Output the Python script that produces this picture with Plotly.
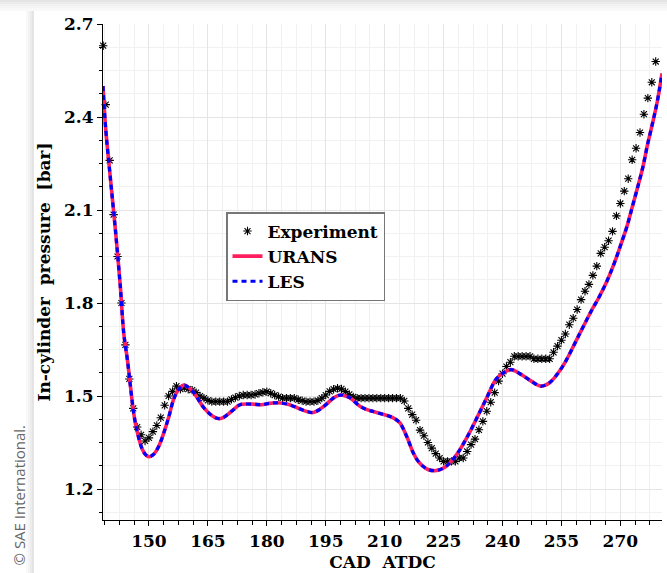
import plotly.graph_objects as go

# ---------------- data ----------------
exp_cad = [138.35, 139, 140, 141, 142, 143, 144, 145, 146, 147, 148, 149, 150, 151, 152, 153, 154, 155,
           156, 157, 158, 159, 160, 161, 162, 163, 164, 165, 166, 167, 168, 169, 170, 171, 172, 173,
           174, 175, 176, 177, 178, 179, 180, 181, 182, 183, 184, 185, 186, 187, 188, 189, 190, 191,
           192, 193, 194, 195, 196, 197, 198, 199, 200, 201, 202, 203, 204, 205, 206, 207, 208, 209,
           210, 211, 212, 213, 214, 215, 216, 217, 218, 219, 220, 221, 222, 223, 224, 225, 226, 227,
           228, 229, 230, 231, 232, 233, 234, 235, 236, 237, 238, 239, 240, 241, 242, 243, 244, 245,
           246, 247, 248, 249, 250, 251, 252, 253, 254, 255, 256, 257, 258, 259, 260, 261, 262, 263,
           264, 265, 266, 267, 268, 269, 270, 271, 272, 273, 274, 275, 276, 277, 278, 279]
exp_p = [2.63, 2.44, 2.26, 2.085, 1.95, 1.80, 1.665, 1.555, 1.46, 1.40, 1.375, 1.355, 1.365, 1.385,
         1.405, 1.43, 1.47, 1.50, 1.515, 1.532, 1.522, 1.527, 1.522, 1.519, 1.511, 1.50, 1.493, 1.486,
         1.482, 1.482, 1.482, 1.482, 1.482, 1.489, 1.495, 1.50, 1.503, 1.503, 1.503, 1.505, 1.509,
         1.512, 1.514, 1.509, 1.503, 1.498, 1.493, 1.493, 1.493, 1.493, 1.488, 1.485, 1.482, 1.482,
         1.482, 1.485, 1.493, 1.503, 1.515, 1.522, 1.525, 1.523, 1.514, 1.505, 1.497, 1.493, 1.493,
         1.493, 1.493, 1.493, 1.493, 1.493, 1.493, 1.493, 1.493, 1.493, 1.493, 1.484, 1.46, 1.44,
         1.422, 1.39, 1.372, 1.35, 1.332, 1.314, 1.30, 1.289, 1.289, 1.289, 1.289, 1.30, 1.30, 1.321,
         1.343, 1.361, 1.391, 1.418, 1.451, 1.48, 1.511, 1.548, 1.572, 1.595, 1.609, 1.628, 1.628,
         1.628, 1.628, 1.628, 1.620, 1.620, 1.620, 1.620, 1.620, 1.641, 1.661, 1.68, 1.70, 1.73,
         1.751, 1.779, 1.811, 1.838, 1.860, 1.889, 1.919, 1.96, 1.98, 2.001, 2.031, 2.081, 2.121,
         2.161, 2.201, 2.262, 2.299, 2.35, 2.409, 2.461, 2.512, 2.579]

cfd_cad = [138.3, 139.0, 140.2, 141.5, 142.7, 143.6, 144.5, 145.3, 146.1, 147.0, 148.3, 149.2, 150.0,
           151.2, 152.5, 153.8, 155.1, 156.3, 157.6, 158.9, 160.1, 161.4, 162.7, 163.9, 165.6, 167.3,
           168.5, 170.0, 171.5, 173.2, 175.8, 178.7, 180.5, 182.5, 185.1, 187.0, 188.5, 190.5, 191.9,
           193.5, 195.3, 197.0, 198.7, 200.0, 201.2, 203.7, 205.5, 207.1, 209.5, 211.4, 212.8, 213.9,
           215.6, 217.3, 218.5, 219.8, 221.0, 222.7, 224.0, 225.5, 226.6, 228.6, 231.1, 233.7, 236.2,
           238.3, 240.5, 242.2, 244.8, 247.3, 249.7, 252.0, 254.2, 256.0, 258.5, 260.6, 262.8, 264.5,
           266.6, 268.5, 270.0, 271.7, 273.1, 274.5, 275.8, 276.9, 278.2, 279.4, 280.6]
urans_p = [2.50, 2.36, 2.20, 2.03, 1.855, 1.70, 1.618, 1.53, 1.446, 1.385, 1.328, 1.31, 1.304,
           1.312, 1.338, 1.382, 1.435, 1.490, 1.522, 1.535, 1.527, 1.511, 1.486, 1.463, 1.441, 1.428,
           1.428, 1.44, 1.456, 1.472, 1.474, 1.472, 1.476, 1.478, 1.474, 1.466, 1.458, 1.449, 1.447,
           1.457, 1.475, 1.494, 1.503, 1.50, 1.494, 1.467, 1.456, 1.45, 1.441, 1.434, 1.425, 1.413,
           1.37, 1.316, 1.29, 1.273, 1.263, 1.259, 1.262, 1.272, 1.284, 1.316, 1.37, 1.435, 1.50,
           1.553, 1.577, 1.585, 1.569, 1.548, 1.532, 1.543, 1.575, 1.61, 1.672, 1.725, 1.779, 1.817,
           1.871, 1.93, 1.984, 2.048, 2.113, 2.178, 2.242, 2.31, 2.38, 2.45, 2.54]
les_p = list(urans_p)

x_ticks = [150, 165, 180, 195, 210, 225, 240, 255, 270]
y_ticks = [1.2, 1.5, 1.8, 2.1, 2.4, 2.7]

# ---------------- figure ----------------
W, H = 667, 573
ML, MR, MT, MB = 103, 5, 24, 53
PW, PH = W - ML - MR, H - MT - MB


def px(xp):
    return (xp - ML) / PW


def py(yp):
    return (H - MB - yp) / PH


SERIF = "DejaVu Serif"
bold = dict(family=SERIF, size=17, color="black", weight="bold")

fig = go.Figure()
fig.add_trace(go.Scatter(
    x=exp_cad, y=exp_p, mode="markers", name="Experiment",
    marker=dict(symbol="asterisk", size=7, color="black",
                line=dict(color="black", width=1.1)),
    cliponaxis=False))
fig.add_trace(go.Scatter(
    x=cfd_cad, y=urans_p, mode="lines", name="URANS", line_shape="spline",
    line=dict(color="#FF1F5E", width=3.6)))
fig.add_trace(go.Scatter(
    x=cfd_cad, y=les_p, mode="lines", name="LES", line_shape="spline",
    line=dict(color="#0000FF", width=3.2, dash="5px,4px")))

axis_common = dict(
    showline=True, linecolor="black", linewidth=1.2, mirror=False,
    ticks="outside", ticklen=5, tickwidth=1, tickcolor="black",
    showgrid=True, gridcolor="#e4e4e4", gridwidth=1, zeroline=False,
    tickfont=bold,
)

fig.update_xaxes(
    range=[138.3, 280.6], tickmode="array", tickvals=x_ticks,
    ticktext=[str(v) for v in x_ticks],
    minor=dict(dtick=3.75, tick0=150, ticks="outside", ticklen=4, tickcolor="black",
               showgrid=True, gridcolor="#f1f1f1", gridwidth=1),
    title=dict(text="CAD\u00a0\u00a0ATDC", font=dict(family=SERIF, size=17, color="black", weight="bold"),
               standoff=6),
    **axis_common)
fig.update_yaxes(
    range=[1.1, 2.7], tickmode="array", tickvals=y_ticks,
    ticktext=["%.1f" % v for v in y_ticks],
    minor=dict(dtick=0.075, tick0=1.2, ticks="outside", ticklen=3, tickcolor="black",
               showgrid=True, gridcolor="#f1f1f1", gridwidth=1),
    title=dict(text="In-cylinder\u00a0\u00a0pressure\u00a0\u00a0[bar]",
               font=dict(family=SERIF, size=17, color="black", weight="bold"), standoff=8),
    **axis_common)

# card shadow (top strip and left edge)
shapes = []
for i, c in enumerate(["#e4e4e4", "#eaeaea", "#efefef", "#f4f4f4", "#f9f9f9"]):
    shapes.append(dict(type="rect", xref="paper", yref="paper", layer="below",
                       x0=px(0), x1=px(W), y0=py(i * 2.2), y1=py((i + 1) * 2.2),
                       line=dict(width=0), fillcolor=c))
for i, c in enumerate(["#f9f9f9", "#f3f3f3", "#ececec", "#e4e4e4"]):
    shapes.append(dict(type="rect", xref="paper", yref="paper", layer="below",
                       x0=px(26 + i * 2), x1=px(28 + i * 2), y0=py(11), y1=py(H),
                       line=dict(width=0), fillcolor=c))
fig.update_layout(shapes=shapes)

fig.add_annotation(
    text="© SAE International.", textangle=-90, showarrow=False,
    xref="paper", yref="paper", x=px(18), y=py(568), xanchor="center", yanchor="bottom",
    font=dict(family="Open Sans", size=15, color="#666666"))

fig.update_layout(
    width=W, height=H,
    margin=dict(l=ML, r=MR, t=MT, b=MB, autoexpand=False),
    paper_bgcolor="white", plot_bgcolor="white",
    showlegend=True,
    legend=dict(x=px(226), y=py(212), xanchor="left", yanchor="top",
                bgcolor="white", bordercolor="#777777", borderwidth=1.5,
                font=dict(family=SERIF, size=17, color="black", weight="bold"),
                tracegroupgap=0, itemwidth=30),
)

fig.write_html("out.html")
